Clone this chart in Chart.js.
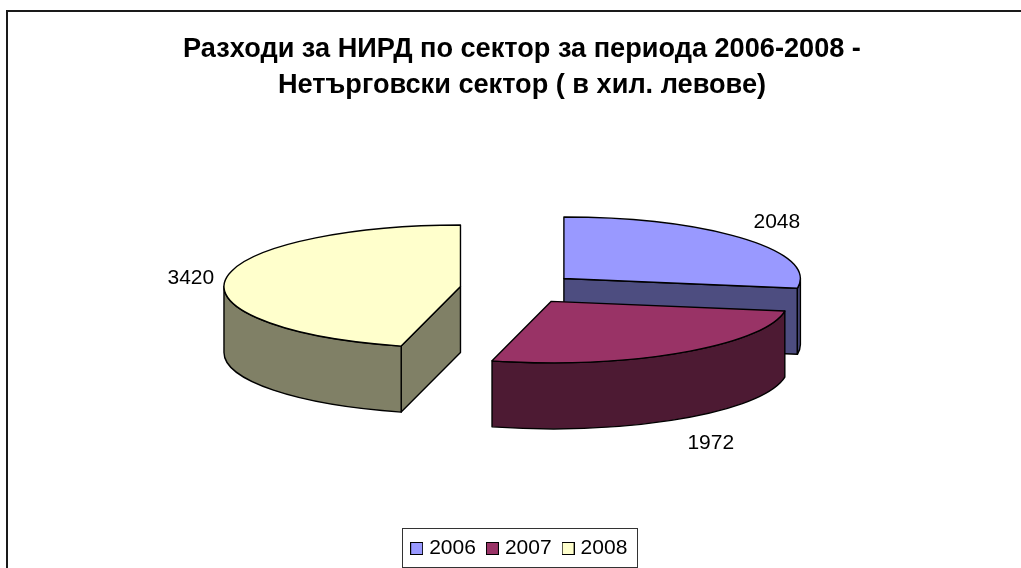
<!DOCTYPE html>
<html>
<head>
<meta charset="utf-8">
<style>html,body{margin:0;padding:0;background:#fff;overflow:hidden}canvas{display:block}</style>
<script src="https://cdn.jsdelivr.net/npm/chart.js@4/dist/chart.umd.min.js"></script>
</head>
<body>
<canvas id="c" width="1021" height="568"></canvas>
<script>
const categories = ['2006', '2007', '2008'];
const values = [2048, 1972, 3420];
const titleLines = ['Разходи за НИРД по сектор за периода 2006-2008 -', 'Нетърговски сектор ( в хил. левове)'];
const topColors = ['#9999FF', '#993366', '#FFFFCC'];
const wallColors = ['#4D4D80', '#4D1A33', '#808066'];

// 3D look
const SQUASH = 0.26, DEPTH = 66, CENTER_Y = 288.5, EXPLODE = 59, RADIUS = 236.5;
const labelNudges = [[33, -16], [30, 90], [-35, -1]];
const drawOrder = [2, 0, 1];
const FONT = '"Liberation Sans", Arial, sans-serif';

function swatch(color) {
  const c = document.createElement('canvas');
  c.width = 13; c.height = 13;
  const x = c.getContext('2d');
  x.fillStyle = color; x.fillRect(0, 0, 13, 13);
  x.strokeStyle = '#000'; x.lineWidth = 1; x.strokeRect(0.5, 0.5, 12, 12);
  return c;
}

function geometry(el) {
  const mid = (el.startAngle + el.endAngle) / 2;
  const R = el.outerRadius;
  return {
    cx: el.x + Math.cos(mid) * EXPLODE,
    cy: CENTER_Y + SQUASH * Math.sin(mid) * EXPLODE,
    R, ry: R * SQUASH, a0: el.startAngle, a1: el.endAngle, mid
  };
}

const pie3d = {
  id: 'pie3d',
  afterLayout(chart) {
    chart.titleBlock.left += 3; chart.titleBlock.right += 3;
    chart.legend.left += 2; chart.legend.right += 2;
    chart.legend.top += 1; chart.legend.bottom += 1;
  },
  beforeDraw(chart) {
    const ctx = chart.ctx;
    ctx.save();
    ctx.strokeStyle = '#1a1a1a'; ctx.lineWidth = 2;
    ctx.beginPath();
    ctx.moveTo(7, 568); ctx.lineTo(7, 11); ctx.lineTo(1021, 11);
    ctx.stroke();
    ctx.restore();
  },
  beforeDatasetDraw(chart, args) {
    const ctx = chart.ctx;
    const arcs = args.meta.data;
    drawOrder.forEach(i => {
      const el = arcs[i], g = geometry(el);
      const pt = a => [g.cx + g.R * Math.cos(a), g.cy + g.ry * Math.sin(a)];
      ctx.save();
      ctx.lineWidth = 1.4; ctx.strokeStyle = '#000'; ctx.lineJoin = 'round';
      ctx.fillStyle = wallColors[i];
      // straight cut faces that look to the viewer
      [[g.a0, Math.sin(g.a0 - Math.PI / 2)], [g.a1, Math.sin(g.a1 + Math.PI / 2)]].forEach(([a, vis]) => {
        if (vis <= 0.001) return;
        const p = pt(a);
        ctx.beginPath();
        ctx.moveTo(g.cx, g.cy); ctx.lineTo(p[0], p[1]);
        ctx.lineTo(p[0], p[1] + DEPTH); ctx.lineTo(g.cx, g.cy + DEPTH);
        ctx.closePath(); ctx.fill(); ctx.stroke();
      });
      // rim
      const from = Math.max(g.a0, 0), to = Math.min(g.a1, Math.PI);
      if (to > from) {
        ctx.beginPath();
        ctx.ellipse(g.cx, g.cy, g.R, g.ry, 0, from, to);
        ctx.ellipse(g.cx, g.cy + DEPTH, g.R, g.ry, 0, to, from, true);
        ctx.closePath(); ctx.fill(); ctx.stroke();
      }
      ctx.restore();
      // top face: the library's own arc, flattened and pulled out
      ctx.save();
      ctx.translate(g.cx - el.x, g.cy);
      ctx.scale(1, SQUASH);
      ctx.translate(0, -el.y);
      el.draw(ctx);
      ctx.restore();
      ctx.save();
      ctx.lineWidth = 1.4; ctx.strokeStyle = '#000'; ctx.lineJoin = 'round';
      ctx.beginPath();
      ctx.moveTo(g.cx, g.cy);
      ctx.ellipse(g.cx, g.cy, g.R, g.ry, 0, g.a0, g.a1);
      ctx.closePath(); ctx.stroke();
      ctx.restore();
    });
    // value labels
    ctx.save();
    ctx.font = '21px ' + FONT; ctx.fillStyle = '#000';
    ctx.textAlign = 'center'; ctx.textBaseline = 'middle';
    arcs.forEach((el, i) => {
      const g = geometry(el);
      ctx.fillText(String(values[i]),
        g.cx + g.R * Math.cos(g.mid) + labelNudges[i][0],
        g.cy + g.ry * Math.sin(g.mid) + labelNudges[i][1]);
    });
    ctx.restore();
    return false;
  },
  afterDraw(chart) {
    const ctx = chart.ctx;
    ctx.save();
    ctx.strokeStyle = '#333'; ctx.lineWidth = 1;
    ctx.strokeRect(402.5, 528.5, 235, 39);
    ctx.restore();
  }
};

new Chart(document.getElementById('c'), {
  type: 'pie',
  data: {
    labels: categories,
    datasets: [{ data: values, backgroundColor: topColors, borderWidth: 0 }]
  },
  plugins: [pie3d],
  options: {
    responsive: false,
    animation: false,
    radius: RADIUS,
    layout: { padding: { left: 17, right: 0, top: 32, bottom: 0 } },
    plugins: {
      tooltip: { enabled: false },
      title: {
        display: true,
        text: titleLines,
        color: '#000',
        font: { family: FONT, size: 27.15, weight: 'bold', lineHeight: 1.326 },
        padding: { top: 0, bottom: 0 }
      },
      legend: {
        display: true,
        position: 'bottom',
        onClick: null,
        labels: {
          font: { family: FONT, size: 21 },
          color: '#000',
          usePointStyle: true,
          boxWidth: 4,
          boxHeight: 13,
          padding: 14.5,
          generateLabels(chart) {
            return categories.map((t, i) => ({
              text: t, fillStyle: topColors[i], strokeStyle: '#000', lineWidth: 1,
              pointStyle: swatch(topColors[i]), index: i, hidden: false
            }));
          }
        }
      }
    }
  }
});
</script>
</body>
</html>
